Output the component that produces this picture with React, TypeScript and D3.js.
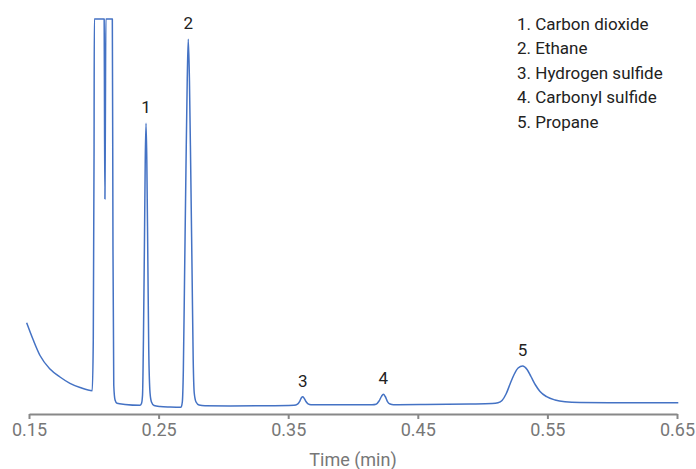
import React, { useRef, useEffect } from "react";
import * as d3 from "d3";

// chromatogram trace (time in min, signal in % of detector range)
const timeMin = [
  0.1482, 0.1533, 0.1585, 0.1662, 0.1739, 0.1816, 0.1894, 0.1988, 0.1996, 0.2002,
  0.2004, 0.208, 0.2083, 0.2086, 0.2089, 0.2093, 0.2143, 0.2148, 0.2154, 0.2164,
  0.2179, 0.2241, 0.2356, 0.2368, 0.2376, 0.2383, 0.2391, 0.2397, 0.2403, 0.2409,
  0.2417, 0.2424, 0.2434, 0.2445, 0.2465, 0.2511, 0.2588, 0.2673, 0.2683, 0.2691,
  0.2701, 0.2711, 0.2721, 0.2729, 0.2738, 0.2748, 0.2758, 0.2767, 0.2775, 0.2789,
  0.2812, 0.2858, 0.3051, 0.3282, 0.3545, 0.3572, 0.359, 0.3602, 0.3612, 0.3623,
  0.3637, 0.3653, 0.3676, 0.3823, 0.4147, 0.4178, 0.4201, 0.422, 0.4234, 0.4249,
  0.4266, 0.4286, 0.4313, 0.4517, 0.4903, 0.5073, 0.5119, 0.515, 0.5181, 0.5212,
  0.5243, 0.5274, 0.5309, 0.5343, 0.5373, 0.5408, 0.5443, 0.5494, 0.5559, 0.5636,
  0.5752, 0.606, 0.651,
];
const signal = [
  23.11, 18.73, 14.81, 11.39, 9.37, 7.77, 6.71, 5.9, 18.73, 66.84,
  100, 100, 71.9, 54.43, 71.9, 100, 100, 41.52, 7.34, 3.54,
  2.71, 2.41, 2.2, 2.66, 4.81, 18.73, 44.05, 64.3, 73.59, 64.3,
  38.99, 16.2, 5.32, 3.04, 2.15, 1.9, 1.77, 1.7, 3.04, 11.14,
  36.46, 61.77, 84.56, 94.86, 84.56, 61.77, 36.46, 13.67, 5.32, 3.04,
  2.28, 2.08, 2.03, 2.08, 2.23, 2.53, 3.29, 4.1, 4.38, 4.0,
  3.16, 2.58, 2.35, 2.33, 2.35, 2.48, 3.29, 4.48, 5.01, 4.43,
  3.16, 2.53, 2.35, 2.41, 2.53, 2.66, 2.84, 3.42, 5.06, 7.59,
  10.0, 11.65, 12.15, 11.27, 9.49, 7.34, 5.7, 4.38, 3.54, 3.11,
  2.94, 2.86, 2.86,
];

// labelled peaks
const peakLabels = ["1", "2", "3", "4", "5"];
const peakTimes = [0.2403, 0.2729, 0.3612, 0.4234, 0.5309];
const peakHeights = [73.59, 94.86, 4.38, 5.01, 12.15];

const compounds = [
  "1. Carbon dioxide",
  "2. Ethane",
  "3. Hydrogen sulfide",
  "4. Carbonyl sulfide",
  "5. Propane",
];

const xTicks = [0.15, 0.25, 0.35, 0.45, 0.55, 0.65];

const Chromatogram = () => {
  const svgRef = useRef<SVGSVGElement>(null);
  const width = 696;
  const height = 469;
  const margin = { top: 19, right: 19, bottom: 55, left: 29 };

  useEffect(() => {
    const svg = d3.select(svgRef.current);
    svg.selectAll("*").remove();

    const font = "Roboto, 'Noto Sans', sans-serif";

    const x = d3
      .scaleLinear()
      .domain([0.15, 0.65])
      .range([margin.left, width - margin.right]);

    const y = d3
      .scaleLinear()
      .domain([0, 100])
      .range([height - margin.bottom, margin.top]);

    const points = timeMin.map((t, i) => ({ t, s: signal[i] }));

    // x axis
    const axis = svg
      .append("g")
      .attr("transform", `translate(0,${height - margin.bottom})`)
      .call(
        d3
          .axisBottom(x)
          .tickValues(xTicks)
          .tickFormat(d3.format(".2f"))
          .tickSize(5)
          .tickSizeOuter(0)
          .tickPadding(4)
      );
    axis.select(".domain").attr("stroke", "#888").attr("stroke-width", 2);
    axis.selectAll(".tick line").attr("stroke", "#888").attr("stroke-width", 2);
    axis
      .selectAll(".tick text")
      .attr("fill", "#777")
      .attr("font-size", 18)
      .attr("font-family", font);

    svg
      .append("text")
      .attr("x", (margin.left + width - margin.right) / 2)
      .attr("y", height - 3)
      .attr("text-anchor", "middle")
      .attr("fill", "#777")
      .attr("font-size", 18)
      .attr("font-family", font)
      .text("Time (min)");

    // trace
    svg
      .append("path")
      .datum(points)
      .attr("fill", "none")
      .attr("stroke", "#4472c4")
      .attr("stroke-width", 1.5)
      .attr("stroke-linejoin", "round")
      .attr(
        "d",
        d3
          .line<{ t: number; s: number }>()
          .x((d) => x(d.t))
          .y((d) => y(d.s))
          .curve(d3.curveMonotoneX)
      );

    // peak numbers
    svg
      .append("g")
      .selectAll("text")
      .data(peakLabels)
      .join("text")
      .attr("x", (d, i) => x(peakTimes[i]))
      .attr("y", (d, i) => y(peakHeights[i]) - 10)
      .attr("text-anchor", "middle")
      .attr("fill", "#222")
      .attr("font-size", 17)
      .attr("font-family", font)
      .text((d) => d);

    // legend
    svg
      .append("g")
      .attr("transform", "translate(517,29.5)")
      .selectAll("text")
      .data(compounds)
      .join("text")
      .attr("x", 0)
      .attr("y", (d, i) => i * 24.5)
      .attr("fill", "#222")
      .attr("font-size", 17)
      .attr("font-family", font)
      .text((d) => d);
  }, []);

  return (
    <svg
      ref={svgRef}
      width={width}
      height={height}
      style={{ position: "absolute", left: 0, top: 0 }}
    ></svg>
  );
};

export default function App() {
  return <Chromatogram />;
}
